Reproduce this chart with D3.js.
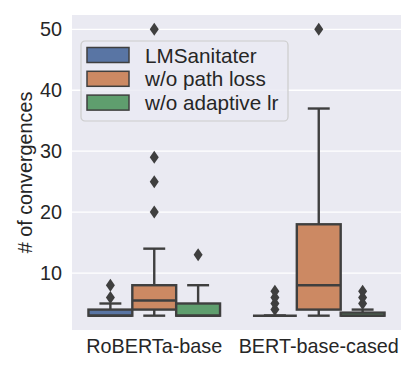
<!DOCTYPE html>
<html lang="en">
<head>
<meta charset="utf-8">
<title>convergences boxplot</title>
<script src="https://cdn.jsdelivr.net/npm/d3@7"></script>
<style>
  body { margin: 0; background: #fff; }
  text { font-family: "Liberation Sans", Arial, sans-serif; fill: #262626; }
</style>
</head>
<body>
<svg id="chart" width="416" height="369"></svg>
<script>
// categories and hues
var categories = ["RoBERTa-base", "BERT-base-cased"];
var methods = ["LMSanitater", "w/o path loss", "w/o adaptive lr"];
var colours = ["#5975a4", "#cc8963", "#5f9e6e"];

// box stats, [category][method]
var q1 =      [[3, 4, 3],   [3, 4, 3]];
var median =  [[3, 5.5, 3], [3, 8, 3]];
var q3 =      [[4, 8, 5],   [3, 18, 3.5]];
var whiskLo = [[3, 3, 3],   [3, 3, 3]];
var whiskHi = [[5, 14, 8],  [3, 37, 4]];
var fliers =  [[[6, 8], [20, 25, 29, 50], [13]],
               [[4, 5, 6, 7], [50], [5, 6, 7]]];

var yTicks = [10, 20, 30, 40, 50];

var LEFT = 72, RIGHT = 401, TOP = 15, BOTTOM = 330;
var LINE = "#3f3f3f";

var svg = d3.select("#chart");

var x = d3.scaleBand().domain(categories).range([LEFT, RIGHT]);
var hue = d3.scaleBand().domain(methods).range([0, x.bandwidth() * 0.8]);
var y = d3.scaleLinear().domain([0.65, 52.35]).range([BOTTOM, TOP]);

// background
svg.append("rect").attr("x", LEFT).attr("y", TOP)
  .attr("width", RIGHT - LEFT).attr("height", BOTTOM - TOP)
  .attr("fill", "#eaeaf2");

// grid
svg.selectAll(".grid").data(yTicks).enter().append("line")
  .attr("x1", LEFT).attr("x2", RIGHT)
  .attr("y1", function (d) { return y(d); })
  .attr("y2", function (d) { return y(d); })
  .attr("stroke", "#fff").attr("stroke-width", 1.3);

// y axis labels
var yAxis = d3.axisLeft(y).tickValues(yTicks).tickSize(0).tickPadding(10);
var ya = svg.append("g").attr("transform", "translate(" + LEFT + ",0)").call(yAxis);
ya.select(".domain").remove();
ya.selectAll("text").style("font-size", "19.8px")
  .style("font-family", "'Liberation Sans', Arial, sans-serif").attr("fill", "#262626");

// x axis labels
var xAxis = d3.axisBottom(x).tickSize(0).tickPadding(9);
var xa = svg.append("g").attr("transform", "translate(0," + BOTTOM + ")").call(xAxis);
xa.select(".domain").remove();
xa.selectAll("text").style("font-size", "19.8px")
  .style("font-family", "'Liberation Sans', Arial, sans-serif").attr("fill", "#262626");

svg.append("text")
  .attr("transform", "translate(32," + ((TOP + BOTTOM) / 2) + ") rotate(-90)")
  .attr("text-anchor", "middle")
  .style("font-size", "19.8px")
  .text("# of convergences");

// boxes
var bw = hue.bandwidth();
categories.forEach(function (cat, ci) {
  methods.forEach(function (m, mi) {
    var x0 = x(cat) + x.bandwidth() * 0.1 + hue(m);
    var cx = x0 + bw / 2;
    var g = svg.append("g");
    var capHalf = bw / 4;

    // whiskers
    g.append("line").attr("x1", cx).attr("x2", cx)
      .attr("y1", y(q3[ci][mi])).attr("y2", y(whiskHi[ci][mi]))
      .attr("stroke", LINE).attr("stroke-width", 2.4);
    g.append("line").attr("x1", cx).attr("x2", cx)
      .attr("y1", y(q1[ci][mi])).attr("y2", y(whiskLo[ci][mi]))
      .attr("stroke", LINE).attr("stroke-width", 2.4);
    [whiskHi[ci][mi], whiskLo[ci][mi]].forEach(function (v) {
      g.append("line").attr("x1", cx - capHalf).attr("x2", cx + capHalf)
        .attr("y1", y(v)).attr("y2", y(v))
        .attr("stroke", LINE).attr("stroke-width", 2.4);
    });

    // box
    g.append("rect").attr("x", x0).attr("width", bw)
      .attr("y", y(q3[ci][mi]))
      .attr("height", Math.max(0, y(q1[ci][mi]) - y(q3[ci][mi])))
      .attr("fill", colours[mi]).attr("stroke", LINE).attr("stroke-width", 2.4);

    // median
    g.append("line").attr("x1", x0).attr("x2", x0 + bw)
      .attr("y1", y(median[ci][mi])).attr("y2", y(median[ci][mi]))
      .attr("stroke", LINE).attr("stroke-width", 2.4);

    // fliers as thin diamonds
    g.selectAll(".flier").data(fliers[ci][mi]).enter().append("path")
      .attr("d", function (d) {
        var py = y(d);
        return "M" + cx + "," + (py - 6.5) + "L" + (cx + 4.5) + "," + py +
          "L" + cx + "," + (py + 6.5) + "L" + (cx - 4.5) + "," + py + "Z";
      })
      .attr("fill", LINE);
  });
});

// legend
var lg = svg.append("g").attr("transform", "translate(81,41)");
lg.append("rect").attr("width", 207).attr("height", 80).attr("rx", 4)
  .attr("fill", "#eaeaf2").attr("fill-opacity", 0.8)
  .attr("stroke", "#cccccc").attr("stroke-width", 1.2);
methods.forEach(function (m, i) {
  lg.append("rect").attr("x", 6).attr("y", 6.5 + i * 23.8)
    .attr("width", 42).attr("height", 15)
    .attr("fill", colours[i]).attr("stroke", LINE).attr("stroke-width", 1.5);
  lg.append("text").attr("x", 64).attr("y", 21.5 + i * 23.8)
    .style("font-size", "20.7px").text(m);
});
</script>
</body>
</html>
